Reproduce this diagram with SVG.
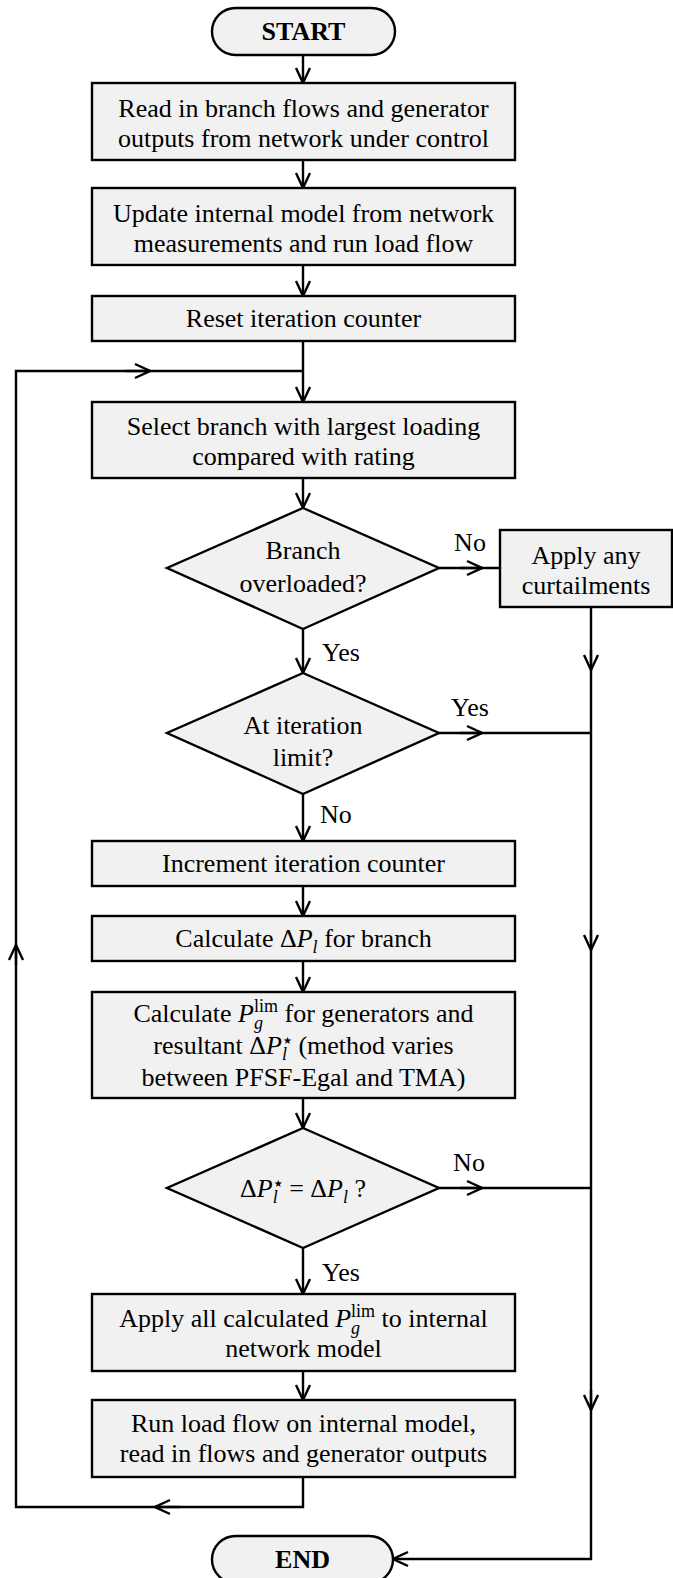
<svg xmlns="http://www.w3.org/2000/svg" width="673" height="1578" viewBox="0 0 673 1578">
  <style>
    .box { fill: #f1f1f1; stroke: #000; stroke-width: 2.4; }
    .t { font-family: "Liberation Serif", "Times New Roman", serif; font-size: 26px; fill: #000; text-anchor: middle; }
    .b { font-weight: bold; }
    .lbl { font-family: "Liberation Serif", "Times New Roman", serif; font-size: 26px; fill: #000; }
    .it { font-style: italic; }
    .sub { font-size: 18px; font-style: italic; }
    .sup { font-size: 18px; }
    .star { font-family: "DejaVu Sans", sans-serif; font-size: 10px; }
    .ln { fill: none; stroke: #000; stroke-width: 2.4; }
  </style>
  <defs>
    <marker id="arr" viewBox="-18 -10 20 20" refX="0" refY="0" markerWidth="20" markerHeight="20" markerUnits="userSpaceOnUse" orient="auto">
      <path d="M-15,-7 L0,0 L-15,7" fill="none" stroke="#000" stroke-width="2.4"/>
    </marker>
  </defs>

  <!-- connectors -->
  <g id="connectors">
    <path class="ln" d="M303,55 L303,83" marker-end="url(#arr)"/>
    <path class="ln" d="M303,160 L303,188" marker-end="url(#arr)"/>
    <path class="ln" d="M303,265 L303,296" marker-end="url(#arr)"/>
    <path class="ln" d="M303,341 L303,402" marker-end="url(#arr)"/>
    <path class="ln" d="M303,478 L303,508" marker-end="url(#arr)"/>
    <path class="ln" d="M303,629 L303,673" marker-end="url(#arr)"/>
    <path class="ln" d="M303,794 L303,841" marker-end="url(#arr)"/>
    <path class="ln" d="M303,886 L303,916" marker-end="url(#arr)"/>
    <path class="ln" d="M303,961 L303,992" marker-end="url(#arr)"/>
    <path class="ln" d="M303,1098 L303,1128" marker-end="url(#arr)"/>
    <path class="ln" d="M303,1248 L303,1294" marker-end="url(#arr)"/>
    <path class="ln" d="M303,1371 L303,1400" marker-end="url(#arr)"/>

    <!-- loop back from the last step -->
    <path class="ln" d="M303,1477 L303,1507 L16,1507 L16,371 L303,371"/>
    <path class="ln" d="M180,1507 L155,1507" marker-end="url(#arr)"/>
    <path class="ln" d="M16,965 L16,945" marker-end="url(#arr)"/>
    <path class="ln" d="M125,371 L150,371" marker-end="url(#arr)"/>

    <!-- exits to END -->
    <path class="ln" d="M439,568 L500,568"/>
    <path class="ln" d="M460,568 L482,568" marker-end="url(#arr)"/>
    <path class="ln" d="M439,733 L591,733"/>
    <path class="ln" d="M460,733 L482,733" marker-end="url(#arr)"/>
    <path class="ln" d="M439,1188 L591,1188"/>
    <path class="ln" d="M460,1188 L482,1188" marker-end="url(#arr)"/>
    <path class="ln" d="M591,607 L591,1559 L393,1559" marker-end="url(#arr)"/>
    <path class="ln" d="M591,650 L591,670" marker-end="url(#arr)"/>
    <path class="ln" d="M591,930 L591,950" marker-end="url(#arr)"/>
    <path class="ln" d="M591,1390 L591,1410" marker-end="url(#arr)"/>

    <!-- branch labels -->
    <text class="lbl" x="470" y="551" text-anchor="middle">No</text>
    <text class="lbl" x="322" y="661">Yes</text>
    <text class="lbl" x="470" y="716" text-anchor="middle">Yes</text>
    <text class="lbl" x="320" y="823">No</text>
    <text class="lbl" x="469" y="1171" text-anchor="middle">No</text>
    <text class="lbl" x="322" y="1281">Yes</text>
  </g>

  <g id="start">
    <rect class="box" x="212" y="8" width="183" height="47" rx="23.5"/>
    <text class="t b" x="303.5" y="40">START</text>
  </g>

  <g id="read-in">
    <rect class="box" x="92" y="83" width="423" height="77"/>
    <text class="t" x="303.5" y="117">Read in branch flows and generator</text>
    <text class="t" x="303.5" y="147">outputs from network under control</text>
  </g>

  <g id="update-model">
    <rect class="box" x="92" y="188" width="423" height="77"/>
    <text class="t" x="303.5" y="222">Update internal model from network</text>
    <text class="t" x="303.5" y="252">measurements and run load flow</text>
  </g>

  <g id="reset-counter">
    <rect class="box" x="92" y="296" width="423" height="45"/>
    <text class="t" x="303.5" y="327">Reset iteration counter</text>
  </g>

  <g id="select-branch">
    <rect class="box" x="92" y="402" width="423" height="76"/>
    <text class="t" x="303.5" y="435">Select branch with largest loading</text>
    <text class="t" x="303.5" y="465">compared with rating</text>
  </g>

  <g id="overloaded">
    <polygon class="box" points="303,508 439,568 303,629 167,568"/>
    <text class="t" x="303" y="559">Branch</text>
    <text class="t" x="303" y="592">overloaded?</text>
  </g>

  <g id="curtail">
    <rect class="box" x="500" y="530" width="172" height="77"/>
    <text class="t" x="586" y="564">Apply any</text>
    <text class="t" x="586" y="594">curtailments</text>
  </g>

  <g id="iteration-limit">
    <polygon class="box" points="303,673 439,733 303,794 167,733"/>
    <text class="t" x="303" y="734">At iteration</text>
    <text class="t" x="303" y="766">limit?</text>
  </g>

  <g id="increment">
    <rect class="box" x="92" y="841" width="423" height="45"/>
    <text class="t" x="303.5" y="872">Increment iteration counter</text>
  </g>

  <g id="calc-dp">
    <rect class="box" x="92" y="916" width="423" height="45"/>
    <text class="t" x="303.5" y="947">Calculate Δ<tspan class="it">P</tspan><tspan class="sub" dy="6">l</tspan><tspan dy="-6"> for branch</tspan></text>
  </g>

  <g id="calc-plim">
    <rect class="box" x="92" y="992" width="423" height="106"/>
    <text class="t" x="303.5" y="1022">Calculate <tspan class="it">P</tspan><tspan class="sub" dy="7">g</tspan><tspan class="sup" dx="-9" dy="-17">lim</tspan><tspan dy="10"> for generators and</tspan></text>
    <text class="t" x="303.5" y="1054">resultant Δ<tspan class="it">P</tspan><tspan class="sub" dy="6">l</tspan><tspan class="star" dx="-4" dy="-16">★</tspan><tspan dy="10"> (method varies</tspan></text>
    <text class="t" x="303.5" y="1086">between PFSF-Egal and TMA)</text>
  </g>

  <g id="dp-equal">
    <polygon class="box" points="303,1128 439,1188 303,1248 167,1188"/>
    <text class="t" x="303" y="1197">Δ<tspan class="it">P</tspan><tspan class="sub" dy="6">l</tspan><tspan class="star" dx="-4" dy="-16">★</tspan><tspan dy="10"> = Δ</tspan><tspan class="it">P</tspan><tspan class="sub" dy="6">l</tspan><tspan dy="-6"> ?</tspan></text>
  </g>

  <g id="apply-plim">
    <rect class="box" x="92" y="1294" width="423" height="77"/>
    <text class="t" x="303.5" y="1327">Apply all calculated <tspan class="it">P</tspan><tspan class="sub" dy="7">g</tspan><tspan class="sup" dx="-9" dy="-17">lim</tspan><tspan dy="10"> to internal</tspan></text>
    <text class="t" x="303.5" y="1357">network model</text>
  </g>

  <g id="run-load-flow">
    <rect class="box" x="92" y="1400" width="423" height="77"/>
    <text class="t" x="303.5" y="1432">Run load flow on internal model,</text>
    <text class="t" x="303.5" y="1462">read in flows and generator outputs</text>
  </g>

  <g id="end">
    <rect class="box" x="212" y="1536" width="181" height="47" rx="23.5"/>
    <text class="t b" x="302.5" y="1568">END</text>
  </g>
</svg>
